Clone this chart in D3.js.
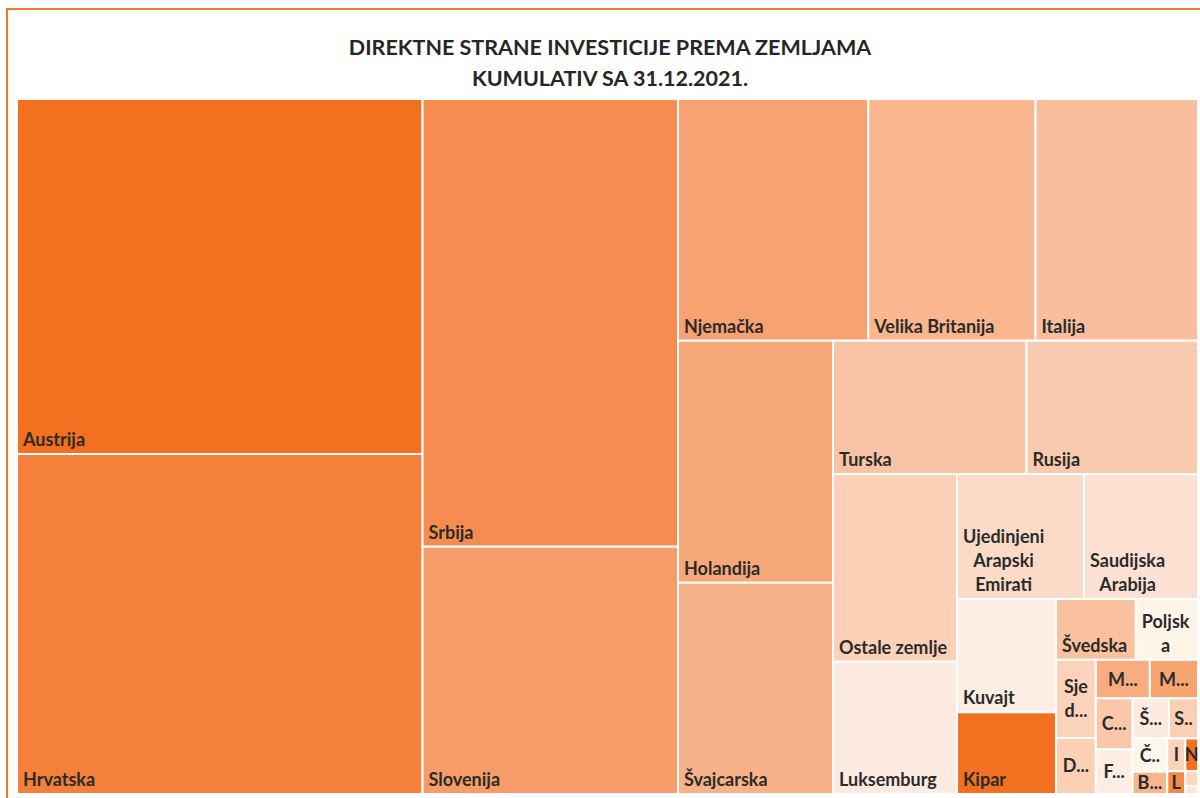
<!DOCTYPE html>
<html>
<head>
<meta charset="utf-8">
<style>
body {
  margin: 0;
  background: #ffffff;
}

svg {
  display: block;
}

text {
  font-family: Lato, "Open Sans", sans-serif;
  font-weight: bold;
  fill: #2b2b2b;
}
</style>
</head>
<body>

<script src="https://cdnjs.cloudflare.com/ajax/libs/d3/7.8.5/d3.min.js"></script>
<script>
// labels as Excel shows them ("|" = line break)
var countries = [
  "Austrija", "Hrvatska", "Srbija", "Slovenija", "Njemačka", "Velika Britanija", "Italija",
  "Holandija", "Švajcarska", "Turska", "Rusija", "Ostale zemlje", "Luksemburg",
  "Ujedinjeni|Arapski|Emirati", "Saudijska|Arabija", "Kuvajt", "Kipar", "Švedska", "Poljsk|a",
  "Sje|d...", "D...", "M...", "M...", "C...", "F...", "Š...", "S..", "Č..", "B...",
  "I", "N", "L", "", ""
]

// mil. KM
var values = [
  2879.1, 2757.4, 2287.7, 1263.7, 919.9, 808.2, 785.5,
  750.2, 655.0, 515.9, 457.2, 465.5, 328.1,
  317.5, 285.0, 224.3, 161.8, 97.0, 75.6,
  62.2, 44.6, 41.6, 37.1, 37.4, 32.8, 29.3, 23.3, 23.1, 15.5,
  11.8, 8.3, 8.2, 3.8, 2.0
]

var colors = [
  "#F37021", "#F5803A", "#F68C4F", "#F79C68", "#F7A270", "#F9B68F", "#F9BF9C",
  "#F7A878", "#F8B289", "#F9C4A5", "#FACAAE", "#FBD1B8", "#FDEBE1",
  "#FBDBC8", "#FCE1D2", "#FDEDE3", "#F37021", "#F9C19E", "#FEF5E7",
  "#FBD3BA", "#FBD0B4", "#F8AC7F", "#F7A66F", "#FAC8A8", "#FDEDE3", "#FDEBE0", "#FACFB3", "#FEF6EA", "#F8B68D",
  "#FAD3BA", "#F37021", "#F58A48", "#FBD7C0", "#FDE6D8"
]

var titleLines = ["DIREKTNE STRANE INVESTICIJE PREMA ZEMLJAMA", "KUMULATIV SA 31.12.2021."]

// how many cells Excel put in each strip
var rowSizes = [2, 2, 3, 2, 2, 2, 2, 2, 2, 2, 2, 2, 2, 2, 2, 1, 1, 1]

var width = 1200,
    height = 798,
    mapLeft = 17,
    mapTop = 99,
    mapWidth = 1181,
    mapHeight = 695,
    pad = 6,
    lineH = 24;

var svg = d3.select("body")
  .append("svg")
  .attr("width", width)
  .attr("height", height)

svg.append("rect")
  .attr("x", 7)
  .attr("y", 9)
  .attr("width", 1220)
  .attr("height", 820)
  .attr("fill", "none")
  .attr("stroke", "#F0782D")
  .attr("stroke-width", 2)

svg.selectAll(".title")
  .data(titleLines)
  .enter().append("text")
  .attr("class", "title")
  .attr("x", 610)
  .attr("y", function(d, i) { return 55 + i * 31 })
  .attr("text-anchor", "middle")
  .style("font-size", "21.5px")
  .style("fill", "#262626")
  .text(function(d) { return d })

var data = countries.map(function(c, i) {
  return { name: c, value: values[i], color: colors[i] }
})

// squarify-like strips, alternating side by the shape of what is left
function excelTile(parent, x0, y0, x1, y1) {
  var nodes = parent.children,
      value = parent.value,
      i0 = 0,
      k = 0;
  while (i0 < nodes.length) {
    var i1 = Math.min(nodes.length, i0 + (rowSizes[k++] || 1))
    var kids = nodes.slice(i0, i1)
    var row = { children: kids, value: d3.sum(kids, function(n) { return n.value }) }
    var dx = x1 - x0, dy = y1 - y0
    if (dx < dy) d3.treemapDice(row, x0, y0, x1, y0 += dy * row.value / value)
    else d3.treemapSlice(row, x0, y0, x0 += dx * row.value / value, y1)
    value -= row.value
    i0 = i1
  }
}

var root = d3.hierarchy({ children: data })
  .sum(function(d) { return d.value || 0 })

d3.treemap()
  .tile(excelTile)
  .size([mapWidth, mapHeight])(root)

var map = svg.append("g")
  .attr("transform", "translate(" + mapLeft + " " + mapTop + ")")

var cells = map.selectAll("g")
  .data(root.leaves())
  .enter().append("g")

cells.append("rect")
  .attr("x", function(d) { return d.x0 })
  .attr("y", function(d) { return d.y0 })
  .attr("width", function(d) { return d.x1 - d.x0 })
  .attr("height", function(d) { return d.y1 - d.y0 })
  .attr("fill", function(d) { return d.data.color })
  .attr("stroke", "#ffffff")
  .attr("stroke-width", 2)

cells.each(function(d) {
  var name = d.data.name
  if (!name) return
  var lines = name.split("|")
  var w = d.x1 - d.x0, h = d.y1 - d.y0
  var cut = /\.\.$/.test(name) || name.length === 1

  var text = d3.select(this).append("text")
    .attr("text-anchor", "middle")
    .style("font-size", "18px")

  var spans = text.selectAll("tspan")
    .data(lines)
    .enter().append("tspan")
    .text(function(s) { return s })

  var blockW = d3.max(spans.nodes(), function(n) { return n.getComputedTextLength() })
  var cx = (cut || blockW + 2 * pad > w) ? d.x0 + w / 2 : d.x0 + pad + blockW / 2
  var lastBase = cut ? d.y0 + h / 2 + (lines.length - 1) * lineH / 2 + 6.5 : d.y1 - 8

  spans.attr("x", cx)
    .attr("y", function(s, j) { return lastBase - (lines.length - 1 - j) * lineH })
})
</script>
</body>
</html>
